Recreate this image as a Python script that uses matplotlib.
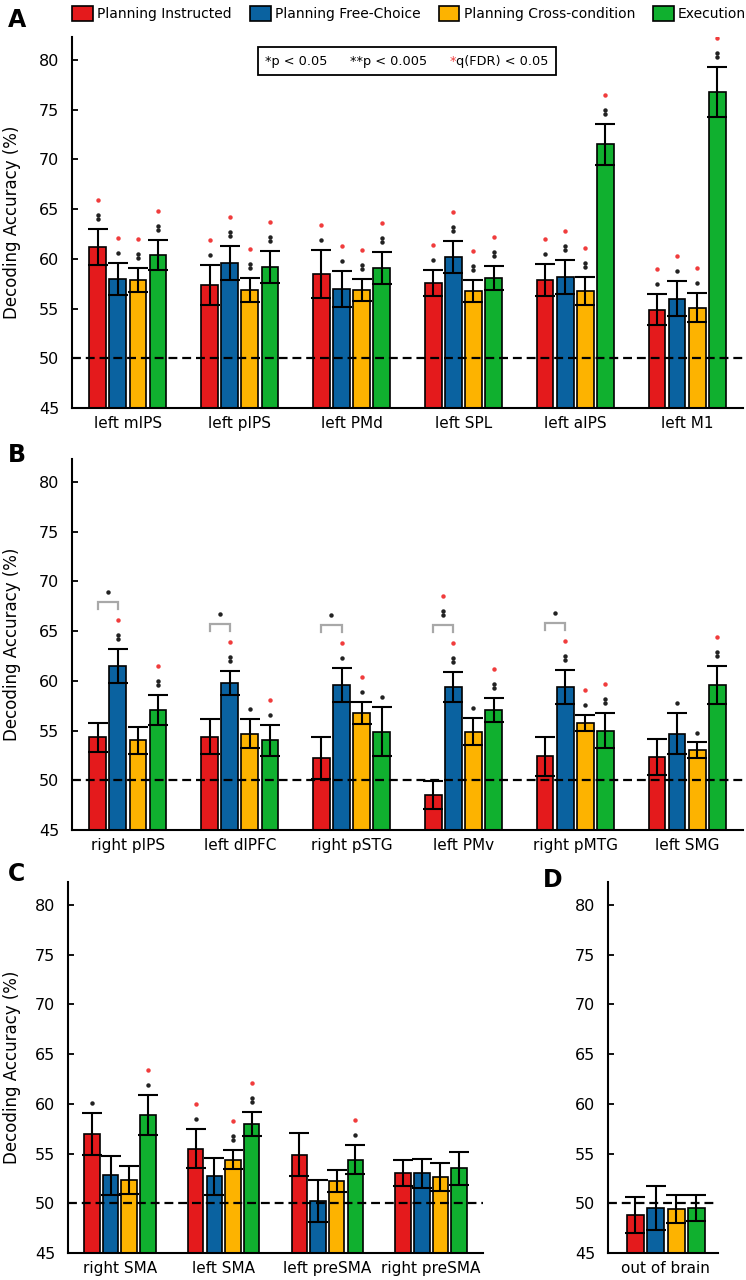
import matplotlib
matplotlib.use("Agg")
import matplotlib.pyplot as plt
from matplotlib.patches import Patch
from matplotlib.offsetbox import TextArea, HPacker, AnchoredOffsetbox
import numpy as np

plt.rcParams['font.family'] = ['DejaVu Sans']

# ---------------- data ----------------
series = ["Planning Instructed", "Planning Free-Choice", "Planning Cross-condition", "Execution"]
colors = ["#e41a1c", "#0a62a0", "#fdb300", "#10b02f"]

A_regions = ["left mIPS", "left pIPS", "left PMd", "left SPL", "left aIPS", "left M1"]
A_instr = [61.2, 57.4, 58.5, 57.6, 57.9, 54.9]
A_free = [58.0, 59.6, 57.0, 60.2, 58.2, 56.0]
A_cross = [57.9, 56.9, 56.9, 56.8, 56.8, 55.1]
A_exec = [60.4, 59.2, 59.1, 58.1, 71.5, 76.8]
A_instr_err = [1.8, 2.0, 2.4, 1.3, 1.6, 1.6]
A_free_err = [1.6, 1.7, 1.8, 1.6, 1.7, 1.8]
A_cross_err = [1.2, 1.2, 1.1, 1.1, 1.4, 1.5]
A_exec_err = [1.5, 1.6, 1.6, 1.2, 2.1, 2.5]
A_sig = [["**+", "*+", "**+", "**+"],
         ["*+", "**+", "**+", "**+"],
         ["*+", "*+", "**+", "**+"],
         ["*+", "**+", "**+", "**+"],
         ["*+", "**+", "**+", "**+"],
         ["*+", "*+", "*+", "**+"]]
A_bracket = ["", "", "", "", "", ""]

B_regions = ["right pIPS", "left dlPFC", "right pSTG", "left PMv", "right pMTG", "left SMG"]
B_instr = [54.3, 54.4, 52.2, 48.5, 52.4, 52.3]
B_free = [61.5, 59.8, 59.6, 59.4, 59.4, 54.7]
B_cross = [54.0, 54.7, 56.8, 54.9, 55.8, 53.0]
B_exec = [57.1, 54.0, 54.9, 57.1, 55.0, 59.6]
B_instr_err = [1.5, 1.8, 2.1, 1.4, 2.0, 1.8]
B_free_err = [1.7, 1.2, 1.7, 1.5, 1.7, 2.1]
B_cross_err = [1.4, 1.5, 1.1, 1.4, 0.8, 0.8]
B_exec_err = [1.5, 1.6, 2.5, 1.2, 1.8, 1.9]
B_sig = [["", "**+", "", "**+"],
         ["", "**+", "*", "*+"],
         ["", "*+", "*+", "*"],
         ["", "**+", "*", "**+"],
         ["", "**+", "*+", "**+"],
         ["", "*", "*", "**+"]]
B_bracket = ["*", "*", "*", "**+", "*", ""]

C_regions = ["right SMA", "left SMA", "left preSMA", "right preSMA"]
C_instr = [57.0, 55.5, 54.9, 53.0]
C_free = [52.8, 52.7, 50.2, 53.0]
C_cross = [52.3, 54.4, 52.2, 52.6]
C_exec = [58.9, 58.0, 54.4, 53.5]
C_instr_err = [2.1, 2.0, 2.2, 1.3]
C_free_err = [2.0, 1.9, 2.1, 1.5]
C_cross_err = [1.4, 1.0, 1.1, 1.4]
C_exec_err = [2.0, 1.2, 1.5, 1.7]
C_sig = [["*", "", "", "*+"],
         ["*+", "", "**+", "**+"],
         ["", "", "", "*+"],
         ["", "", "", ""]]
C_bracket = ["", "", "", ""]

D_regions = ["out of brain"]
D_instr = [48.8]
D_free = [49.5]
D_cross = [49.4]
D_exec = [49.5]
D_instr_err = [1.8]
D_free_err = [2.2]
D_cross_err = [1.4]
D_exec_err = [1.3]
D_sig = [["", "", "", ""]]
D_bracket = [""]

chance = 50
yticks = [45, 50, 55, 60, 65, 70, 75, 80]

# ---------------- figure ----------------
W, H = 746, 1280
fig = plt.figure(figsize=(W / 100, H / 100), dpi=100)


def px_axes(l, t, r, b):
    return fig.add_axes([l / W, 1 - b / H, (r - l) / W, (b - t) / H])


axA = px_axes(72, 37, 743, 408)
axB = px_axes(72, 459, 743, 830)
axC = px_axes(68, 882, 483, 1253)
axD = px_axes(608, 882, 718, 1253)

RED_STAR = "#f03c3c"
MS = 3.2
step = 0.18
width = 0.15
offsets = (np.arange(4) - 1.5) * step


def draw_panel(ax, regions, means, errs, sigs, brackets, xlim, ylabel=True):
    x = np.arange(len(regions))
    for k in range(4):
        ax.bar(x + offsets[k], means[k], width, bottom=0, color=colors[k],
               edgecolor="black", linewidth=1.2, zorder=2)
        ax.errorbar(x + offsets[k], means[k], yerr=errs[k], fmt="none",
                    ecolor="black", elinewidth=1.5, capsize=7.5, capthick=1.5, zorder=3)
    ax.axhline(chance, color="black", lw=1.6, ls=(0, (4, 2.2)), zorder=4)
    tops = {}
    for g in range(len(regions)):
        for k in range(4):
            s = sigs[g][k]
            base = means[k][g] + errs[k][g]
            top = base
            n = s.count("*")
            xx = x[g] + offsets[k]
            for i in range(n):
                top = base + 1.0 + 0.4 * i
                ax.plot(xx, top, marker="o", ms=MS, color="#222222", mec="none", zorder=5)
            if "+" in s:
                top = top + 1.5
                ax.plot(xx, top, marker="o", ms=MS, color=RED_STAR, mec="none", zorder=5)
            tops[(g, k)] = top
        b = brackets[g]
        if b:
            lvl = max(tops[(g, 0)], tops[(g, 1)]) + 1.8
            x0, x1 = x[g] + offsets[0], x[g] + offsets[1]
            ax.plot([x0, x0, x1, x1], [lvl - 0.65, lvl, lvl, lvl - 0.65],
                    color="#a8a8a8", lw=1.6, zorder=5, solid_joinstyle="miter")
            n = b.count("*")
            xm = (x0 + x1) / 2
            t = lvl
            for i in range(n):
                t = lvl + 1.0 + 0.4 * i
                ax.plot(xm, t, marker="o", ms=MS, color="#222222", mec="none", zorder=5)
            if "+" in b:
                ax.plot(xm, t + 1.5, marker="o", ms=MS, color=RED_STAR, mec="none", zorder=5)

    ax.set_xlim(*xlim)
    ax.set_ylim(45, 82.3)
    ax.set_yticks(yticks)
    ax.set_xticks(x)
    ax.set_xticklabels(regions, fontsize=11)
    ax.tick_params(axis="x", length=0, pad=6)
    ax.tick_params(axis="y", direction="in", length=4, width=1.3, pad=9, labelsize=11.5)
    for sp in ["top", "right"]:
        ax.spines[sp].set_visible(False)
    for sp in ["left", "bottom"]:
        ax.spines[sp].set_linewidth(1.5)
    if ylabel:
        ax.set_ylabel("Decoding Accuracy (%)", fontsize=12)
        bb = ax.get_position()
        ax.yaxis.set_label_coords((21 / W - bb.x0) / bb.width, 0.5)


draw_panel(axA, A_regions, [A_instr, A_free, A_cross, A_exec],
           [A_instr_err, A_free_err, A_cross_err, A_exec_err], A_sig, A_bracket, (-0.5, 5.5))
draw_panel(axB, B_regions, [B_instr, B_free, B_cross, B_exec],
           [B_instr_err, B_free_err, B_cross_err, B_exec_err], B_sig, B_bracket, (-0.5, 5.5))
draw_panel(axC, C_regions, [C_instr, C_free, C_cross, C_exec],
           [C_instr_err, C_free_err, C_cross_err, C_exec_err], C_sig, C_bracket, (-0.5, 3.5))
draw_panel(axD, D_regions, [D_instr, D_free, D_cross, D_exec],
           [D_instr_err, D_free_err, D_cross_err, D_exec_err], D_sig, D_bracket, (-0.51, 0.46),
           ylabel=False)

# significance key box in panel A
fs = 9.3
t1 = TextArea("*p < 0.05", textprops=dict(fontsize=fs))
t2 = TextArea("**p < 0.005", textprops=dict(fontsize=fs))
t3a = TextArea("*", textprops=dict(fontsize=fs, color=RED_STAR))
t3b = TextArea("q(FDR) < 0.05", textprops=dict(fontsize=fs))
t3 = HPacker(children=[t3a, t3b], align="baseline", pad=0, sep=0)
pack = HPacker(children=[t1, t2, t3], align="baseline", pad=0, sep=16)
box = AnchoredOffsetbox(loc="upper center", child=pack, pad=0.55, borderpad=0,
                        frameon=True, bbox_to_anchor=(0.499, 1 - 10 / 371),
                        bbox_transform=axA.transAxes)
box.patch.set_edgecolor("black")
box.patch.set_linewidth(1.3)
box.patch.set_boxstyle("square", pad=0)
axA.add_artist(box)

# legend
handles = [Patch(facecolor=c, edgecolor="black", linewidth=1.2) for c in colors]
fig.legend(handles, series, loc="upper left", bbox_to_anchor=(68 / W, 1 - 2 / H),
           ncol=4, frameon=False, fontsize=10, handlelength=1.5, handleheight=1.25,
           handletextpad=0.3, columnspacing=1.3, borderaxespad=0, borderpad=0.3)

# panel letters
for lab, xp, yp in [("A", 8, 8), ("B", 8, 443), ("C", 8, 862), ("D", 543, 868)]:
    fig.text(xp / W, 1 - yp / H, lab, fontsize=17, fontweight="bold", ha="left", va="top")

fig.savefig("out.png", dpi=100)
